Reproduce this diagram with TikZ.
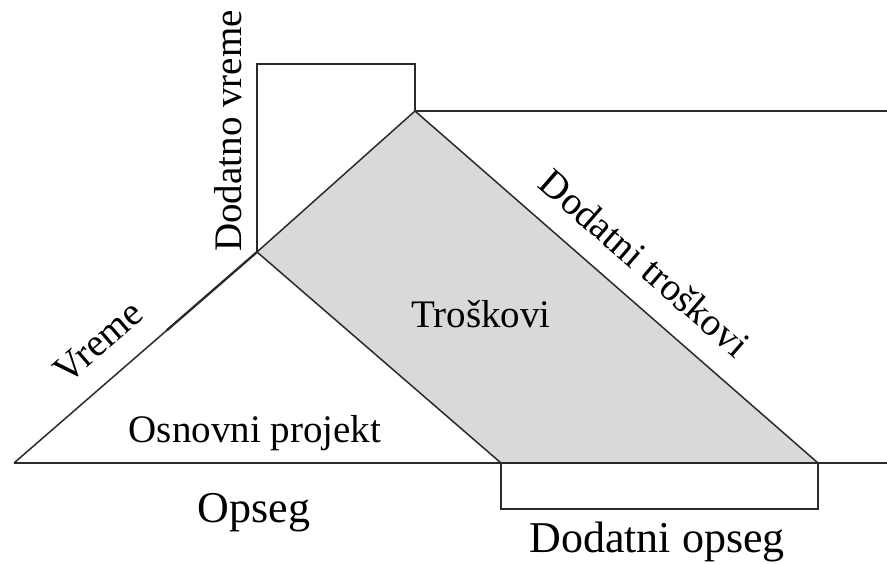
\documentclass[tikz,border=0pt]{standalone}
\usepackage{fontspec}
\setmainfont{Liberation Serif}
\usetikzlibrary{calc}
\definecolor{inkline}{HTML}{2A2A2A}
\definecolor{costfill}{HTML}{D9D9D9}
\begin{document}
\begin{tikzpicture}[x=1pt,y=-1pt,
  edge/.style={draw=inkline, line width=1.5pt, line join=miter},
  lbl/.style={inner sep=0pt, text=black, font=\fontsize{39}{45}\selectfont},
  biglbl/.style={inner sep=0pt, text=black, font=\fontsize{44}{50}\selectfont}]
\useasboundingbox (0,0) rectangle (887,564);

% key corners
\coordinate (L)  at (14,463);
\coordinate (A)  at (257,252);
\coordinate (T)  at (415,111);
\coordinate (R)  at (818,463);
\coordinate (M)  at (501,463);
\coordinate (E)  at (887,463);
\coordinate (TE) at (887,111);
\coordinate (VL) at (257,64);
\coordinate (VR) at (415,64);
\coordinate (OL) at (501,509);
\coordinate (OR) at (818,509);

% cost band
\fill[costfill] (A) -- (T) -- (R) -- (M) -- cycle;

% outlines
\draw[edge] (L) -- (E);
\draw[edge] (L) -- (A) -- (M);
\draw[edge] (A) -- (T) -- (R);
\draw[edge] (T) -- (TE);
\draw[edge] (A) -- (VL) -- (VR) -- (T);
\draw[edge] (M) -- (OL) -- (OR) -- (R);
\draw[edge, line width=2.3pt, line cap=round] ($(L)!0.63!(A)$) -- (A);

% labels
\node[lbl, rotate=90] (dv) at (228,131) {Dodatno vreme};
\node[lbl, rotate=41] (vr) at (98,342) {Vreme};
\node[lbl, anchor=base] (op) at (255,442) {Osnovni projekt};
\node[biglbl, anchor=base] (os) at (254,522) {Opseg};
\node[lbl, anchor=base] (tr) at (481,328) {Troškovi};
\node[lbl, rotate=-41] (dt) at (645,263) {Dodatni troškovi};
\node[biglbl, anchor=base] (do) at (657,552) {Dodatni opseg};
\end{tikzpicture}
\end{document}
